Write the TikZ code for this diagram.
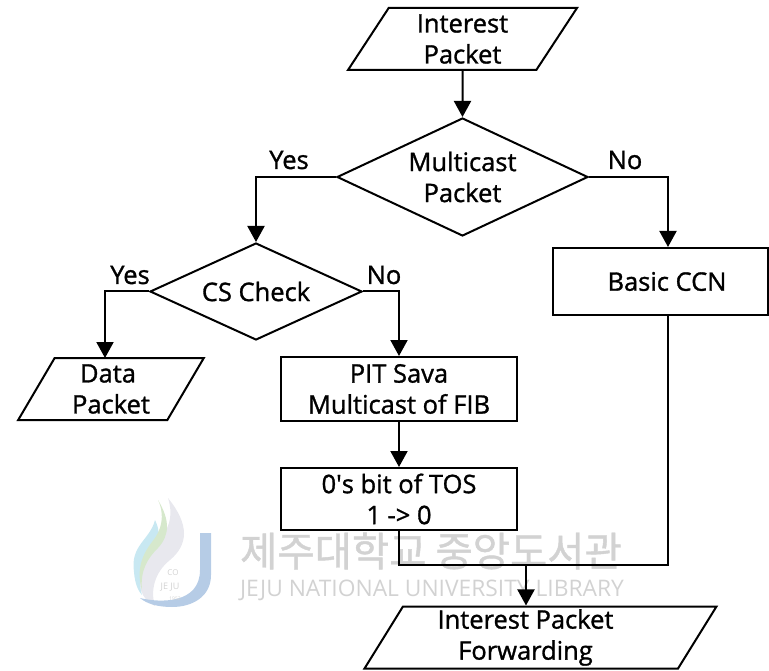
\documentclass[tikz,border=0pt]{standalone}
\usepackage{fontspec}
\setmainfont[FakeBold=1.2]{Open Sans}
\newfontfamily\plainfont{Open Sans}
\newfontfamily\krfont[FakeBold=1]{Noto Sans CJK KR}
\usetikzlibrary{shapes.geometric,arrows.meta}
\definecolor{wmgray}{RGB}{210,210,210}
\definecolor{wmblue}{RGB}{182,204,230}
\definecolor{wmsky}{RGB}{200,232,242}
\definecolor{wmgreen}{RGB}{214,232,204}
\definecolor{wmpale}{RGB}{232,232,238}
\begin{document}
\begin{tikzpicture}[x=1pt,y=-1pt,line width=2pt,font=\fontsize{25.5}{31}\selectfont,>={Triangle[length=16pt,width=17pt]}]
	\tikzstyle{io}=[draw,trapezium,trapezium left angle=63,trapezium right angle=117,trapezium stretches=true,inner sep=0pt,minimum height=62pt,align=center]
	\tikzstyle{check}=[draw,diamond,aspect=2,inner sep=0pt,align=center]
	\tikzstyle{work}=[draw,rectangle,inner sep=0pt,align=center]
	\tikzstyle{answer}=[inner sep=0pt]
	\useasboundingbox (0,0) rectangle (769,671);
	% watermark
	\node[text=wmgray,font=\krfont\fontsize{40.5}{40}\selectfont] (wmkr) at (431,551) {제주대학교 중앙도서관};
	\node[text=wmgray,font=\plainfont\fontsize{22.8}{23}\selectfont] (wmen) at (432,590) {JEJU NATIONAL UNIVERSITY LIBRARY};
	\fill[wmpale] (168,498) .. controls (190,525) and (188,545) .. (170,560) .. controls (155,572) and (150,590) .. (155,606) .. controls (142,600) and (135,585) .. (143,565) .. controls (155,540) and (178,530) .. (168,498) -- cycle;
	\fill[wmsky] (155,520) .. controls (150,540) and (130,545) .. (134,572) .. controls (135,585) and (139,592) .. (142,595) .. controls (136,575) and (145,560) .. (155,550) .. controls (160,540) and (160,530) .. (155,520) -- cycle;
	\fill[wmgreen] (158,500) .. controls (170,520) and (170,535) .. (158,548) .. controls (148,558) and (140,570) .. (142,590) .. controls (136,570) and (142,555) .. (152,542) .. controls (162,530) and (165,515) .. (158,500) -- cycle;
	\fill[wmblue] (200,533) -- (211,533) -- (211,575) .. controls (211,597) and (192,607) .. (172,607) .. controls (158,607) and (147,604) .. (140,598) .. controls (160,603) and (200,604) .. (200,570) -- cycle;
	\node[text=wmgray,font=\plainfont\fontsize{8}{8}\selectfont] (wmco) at (173,573) {CO};
	\node[text=wmgray,font=\plainfont\fontsize{9}{9}\selectfont] (wmjeju) at (170,587) {JE JU};
	\node[text=wmgray,font=\plainfont\fontsize{5}{5}\selectfont] (wmyear) at (175,599) {1952};
	% flow
	\node[io,minimum width=229pt] (interest) at (462.5,39) {Interest\\Packet};
	\node[check,minimum width=251pt,minimum height=118pt] (multicast) at (462.5,177) {Multicast\\Packet};
	\node[check,minimum width=212pt,minimum height=97pt] (cscheck) at (256,291.5) {CS Check};
	\node[work,minimum width=215pt,minimum height=67pt] (basic) at (660.5,281.5) {\hspace*{13pt}Basic CCN};
	\node[io,minimum width=186pt] (data) at (111,389) {Data\hspace*{6pt}\\Packet};
	\node[work,minimum width=236pt,minimum height=64pt] (pit) at (399,389) {PIT Sava\\Multicast of FIB};
	\node[work,minimum width=236pt,minimum height=62pt] (tos) at (399,499) {0\textquotesingle s bit of TOS\\1 -> 0};
	\node[io,minimum width=353pt] (forward) at (540.5,637.5) {Interest Packet\hspace*{30pt}\\Forwarding\hspace*{30pt}};
	\coordinate (merge) at (526,565);
	\node[answer] (yes1) at (289,160) {Yes};
	\node[answer] (no1) at (625,160) {No};
	\node[answer] (yes2) at (130,275) {Yes};
	\node[answer] (no2) at (384,275) {No};
	\draw[->] (interest.south) -- (multicast.north);
	\draw[->] (multicast.west) -| (cscheck.north);
	\draw[->] (multicast.east) -| (basic.north -| 668,0);
	\draw[->] (cscheck.west) -| (105,358);
	\draw[->] (cscheck.east) -| (pit.north);
	\draw[->] (pit.south) -- (tos.north);
	\draw (tos.south) |- (merge);
	\draw (basic.south -| 668,0) |- (merge);
	\draw[->] (merge) -- (merge |- forward.north);
\end{tikzpicture}
\end{document}
